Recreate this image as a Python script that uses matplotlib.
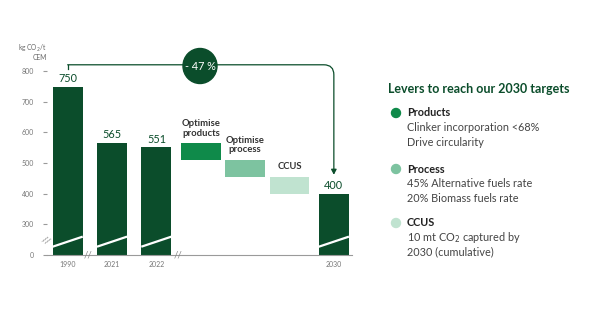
import matplotlib.pyplot as plt
import numpy as np
from matplotlib.patches import Ellipse, FancyArrowPatch

plt.rcParams['font.family'] = ['Lato', 'DejaVu Sans']

# data
years = ['1990', '2021', '2022', '2030']
year_pos = [0, 1, 2, 6]
year_vals = [750, 565, 551, 400]

levers = ['Optimise\nproducts', 'Optimise\nprocess', 'CCUS']
lever_pos = [3, 4, 5]
lever_top = [565, 510, 456]
lever_bottom = [510, 456, 400]

y_ticks = [200, 300, 400, 500, 600, 700, 800]
y_labels = ['0', '300', '400', '500', '600', '700', '800']

legend_heads = ['Products', 'Process', 'CCUS']
legend_lines = [['Clinker incorporation <68%', 'Drive circularity'],
                ['45% Alternative fuels rate', '20% Biomass fuels rate'],
                ['10 mt CO$_2$ captured by', '2030 (cumulative)']]

dark = '#0b4d2b'
lever_cols = ['#0f8a4a', '#7dc3a0', '#c0e3d0']
axis_col = '#9a9a9a'

fig = plt.figure(figsize=(6, 3.27), dpi=100)
ax = fig.add_axes([0.078, 0.2202, 0.508, 0.562])

base = 200
ax.bar(year_pos, np.array(year_vals) - base, bottom=base, width=0.68, color=dark)
ax.bar(lever_pos, np.array(lever_top) - np.array(lever_bottom), bottom=lever_bottom,
       width=0.9, color=lever_cols)

# white break stripe inside the year bars
for p in year_pos:
    ax.plot([p - 0.34, p + 0.34], [227, 260], color='white', lw=1.6, solid_capstyle='butt')

for p, v in zip(year_pos, year_vals):
    ax.annotate(str(v), (p, v), xytext=(0, 2), textcoords='offset points',
                ha='center', va='bottom', fontsize=7.8, color=dark)

for p, t, lab in zip(lever_pos, lever_top, levers):
    ax.annotate(lab, (p, t), xytext=(0, 4), textcoords='offset points', ha='center',
                va='bottom', fontsize=6.8, fontweight='bold', color='#333333', linespacing=1.05)

ax.set_xlim(-0.47, 6.4)
ax.set_ylim(200, 800)
ax.set_yticks(y_ticks)
ax.set_yticklabels(y_labels)
ax.set_xticks(year_pos)
ax.set_xticklabels(years)
ax.tick_params(axis='y', length=3, color=axis_col, labelcolor='#777777', labelsize=5, pad=6)
ax.tick_params(axis='x', length=0, labelcolor='#777777', labelsize=5, pad=4)
for s in ['top', 'right', 'left']:
    ax.spines[s].set_visible(False)
ax.spines['bottom'].set_color(axis_col)
ax.spines['bottom'].set_linewidth(0.8)

# axis break marks
for xb in [0.45, 2.48]:
    ax.text(xb, 200, '//', ha='center', va='center', fontsize=7, color='#888888',
            clip_on=False)
ax.text(-0.5, 248, '//', ha='center', va='center', fontsize=7, color='#888888',
        clip_on=False, rotation=-30)

ax.text(-0.47, 835, 'kg CO$_2$/t\nCEM', ha='right', va='bottom', fontsize=4.8,
        color='#666666', linespacing=1.0)

# -47 % bracket
ax.plot([0, 0], [808, 821], color=dark, lw=0.9, clip_on=False)
arr = FancyArrowPatch((0, 821), (6, 462), connectionstyle='angle,angleA=0,angleB=90,rad=10',
                      arrowstyle='-|>,head_length=3,head_width=1.6', color=dark, lw=0.9,
                      clip_on=False, shrinkA=0, shrinkB=0)
ax.add_patch(arr)
fig.patches.append(Ellipse((200 / 600, 1 - 66 / 327), 34 / 600, 35 / 327,
                           transform=fig.transFigure, color=dark))
fig.text(200 / 600, 1 - 66 / 327, '- 47 %', ha='center', va='center', color='white',
         fontsize=7.8)

# right side legend
fig.text(388 / 600, 1 - 89 / 327, 'Levers to reach our 2030 targets', ha='left', va='center',
         fontsize=9, fontweight='bold', color=dark)
head_y = [113, 169, 223]
for hy, head, lines, c in zip(head_y, legend_heads, legend_lines, lever_cols):
    fig.patches.append(Ellipse((396 / 600, 1 - hy / 327), 9 / 600, 9 / 327,
                               transform=fig.transFigure, color=c))
    fig.text(407 / 600, 1 - hy / 327, head, ha='left', va='center', fontsize=7.8,
             fontweight='bold', color='#222222')
    for i, ln in enumerate(lines):
        fig.text(407 / 600, 1 - (hy + 14.5 * (i + 1)) / 327, ln, ha='left', va='center',
                 fontsize=7.8, color='#444444')

fig.savefig('out.png', dpi=100, facecolor='white')
